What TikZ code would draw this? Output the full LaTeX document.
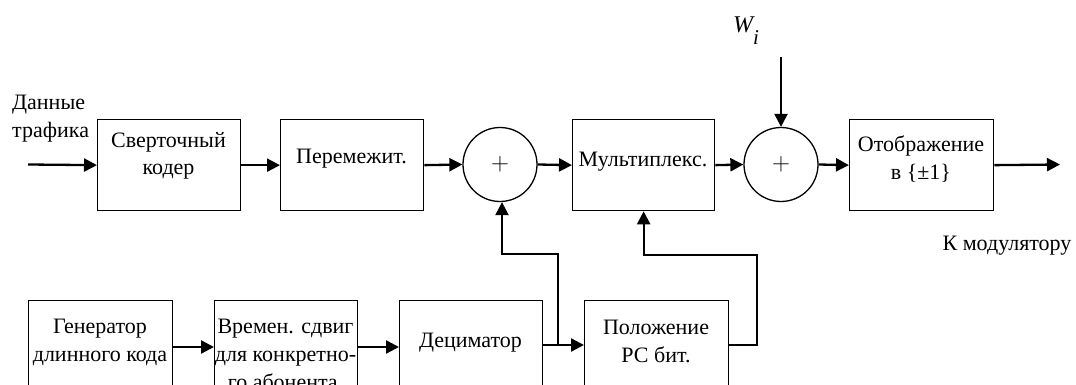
\documentclass[tikz,border=0pt]{standalone}
\usepackage{fontspec}
\setmainfont{Liberation Serif}
\usetikzlibrary{arrows.meta}
\begin{document}
\begin{tikzpicture}[x=1pt,y=-1pt,
  box/.style={draw,line width=1.3pt,inner sep=0pt,anchor=north west},
  sumc/.style={draw,circle,line width=1.3pt,minimum size=74pt,inner sep=0pt,font=\fontsize{28}{28}\selectfont},
  lbl/.style={font=\fontsize{22}{28}\selectfont,align=center,inner sep=0pt,anchor=base},
  arr/.style={line width=2.3pt,-{Triangle[length=13pt,width=13pt]}},
  wire/.style={line width=2.3pt}]
\useasboundingbox (0,0) rectangle (1076,385);
\clip (0,0) rectangle (1076,385);
% top row boxes
\node[box,minimum width=143pt,minimum height=91pt] (b1) at (97,119) {};
\node[box,minimum width=143pt,minimum height=91pt] (b2) at (280,119) {};
\node[box,minimum width=142pt,minimum height=91pt] (b3) at (572,119) {};
\node[box,minimum width=144pt,minimum height=91pt] (b4) at (849,119) {};
\node[sumc] (c1) at (500,164.5) {$+$};
\node[sumc] (c2) at (781,164.5) {$+$};
% bottom row boxes
\node[box,minimum width=144pt,minimum height=110pt] (b5) at (28,300) {};
\node[box,minimum width=143pt,minimum height=110pt] (b6) at (214,300) {};
\node[box,minimum width=143pt,minimum height=110pt] (b7) at (399,300) {};
\node[box,minimum width=144pt,minimum height=110pt] (b8) at (584,300) {};
% texts (base = baseline of the last line)
\node[lbl] (t1) at (168.5,175) {Сверточный\\кодер};
\node[lbl] (t2) at (351.5,164) {Перемежит.};
\node[lbl] (t3) at (643,166) {Мультиплекс.};
\node[lbl] (t4) at (921,179) {Отображение\\в \{±1\}};
\node[lbl] (t5) at (100,361) {Генератор\\длинного кода};
\node[lbl] (t6) at (285.5,389) {Времен. сдвиг\\для конкретно-\\го абонента.};
\node[lbl] (t7) at (470.5,347) {Дециматор};
\node[lbl] (t8) at (656,362) {Положение\\РС бит.};
\node[lbl,anchor=base west,align=left] (tin) at (12,138) {Данные\\трафика};
\node[lbl] (tout) at (1007,250) {К модулятору};
\node[inner sep=0pt,anchor=base west,font=\fontsize{24}{24}\selectfont\itshape] (w) at (733,33) {W\raisebox{-12pt}{\fontsize{21}{21}\selectfont i}};
% top connectors
\coordinate (in) at (28,164.5);
\coordinate (out) at (1060,164.5);
\coordinate (wt) at (781,57);
\draw[arr] (in) -- (b1.west);
\draw[arr] (b1.east) -- (b2.west);
\draw[arr] (b2.east) -- (c1.west);
\draw[arr] (c1.east) -- (b3.west);
\draw[arr] (b3.east) -- (c2.west);
\draw[arr] (c2.east) -- (b4.west);
\draw[arr] (b4.east) -- (out);
\draw[arr] (wt) -- (c2.north);
% bottom connectors
\draw[arr] ([yshift=-47pt]b5.north east) -- ([yshift=-47pt]b6.north west);
\draw[arr] ([yshift=-47pt]b6.north east) -- ([yshift=-47pt]b7.north west);
\draw[arr] ([yshift=-45pt]b7.north east) -- ([yshift=-45pt]b8.north west);
\coordinate (j1) at (558,345);
\draw[arr] (j1) -- ++(0,-91) -| ([xshift=2pt]c1.south);
\draw[arr] ([yshift=-45pt]b8.north east) -- ++(28,0) -- ++(0,-90) -| (b3.south);
\end{tikzpicture}
\end{document}
